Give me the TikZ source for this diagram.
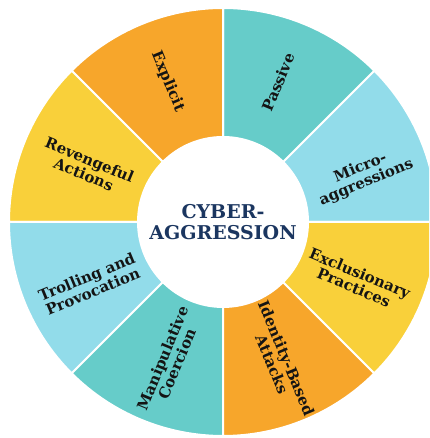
\documentclass[tikz,border=0pt]{standalone}
\usepackage{fontspec}
\setmainfont{DejaVu Serif}
\usetikzlibrary{calc}
\definecolor{cteal}{RGB}{102,204,201}
\definecolor{cblue}{RGB}{146,220,234}
\definecolor{cyell}{RGB}{249,208,58}
\definecolor{corng}{RGB}{247,166,43}
\definecolor{cnavy}{RGB}{27,54,96}
\begin{document}
\begin{tikzpicture}[x=1pt,y=1pt,
  seg/.style={draw=white, line width=2pt},
  lab/.style={font=\bfseries\fontsize{15}{15.5}\selectfont, align=center, text=black!92, inner sep=0pt}]
\useasboundingbox (0,0) rectangle (429,438);
\clip (0,0) rectangle (429,438);
\coordinate (O) at (223,216);
\foreach \a/\c in {0/cblue,45/cteal,90/corng,135/cyell,180/cblue,225/cteal,270/corng,315/cyell}{
  \filldraw[seg, fill=\c] (O) -- ++(\a:214) arc[start angle=\a, delta angle=45, radius=214] -- cycle;
}
\node[circle, fill=white, minimum size=172pt, inner sep=0pt] (hub) at (O) {};
\node[font=\bfseries\fontsize{19}{21}\selectfont, text=cnavy, align=center] (title) at (O) {CYBER-\\AGGRESSION};
\node[lab, rotate=67.5] (passive) at ($(O)+(68.5:150)$) {Passive};
\node[lab, rotate=22.5] (micro) at ($(O)+(18.5:148)$) {Micro-\\aggressions};
\node[lab, rotate=-22.5] (excl) at ($(O)+(-23.5:146)$) {Exclusionary\\Practices};
\node[lab, rotate=-67.5] (ident) at ($(O)+(-68:150)$) {Identity-Based\\Attacks};
\node[lab, rotate=67.5] (manip) at ($(O)+(249:149)$) {Manipulative\\Coercion};
\node[lab, rotate=22.5] (troll) at ($(O)+(205:147)$) {Trolling and\\Provocation};
\node[lab, rotate=-22.5] (reven) at ($(O)+(158:147)$) {Revengeful\\Actions};
\node[lab, rotate=-67.5] (expl) at ($(O)+(111.5:151)$) {Explicit};
\end{tikzpicture}
\end{document}
